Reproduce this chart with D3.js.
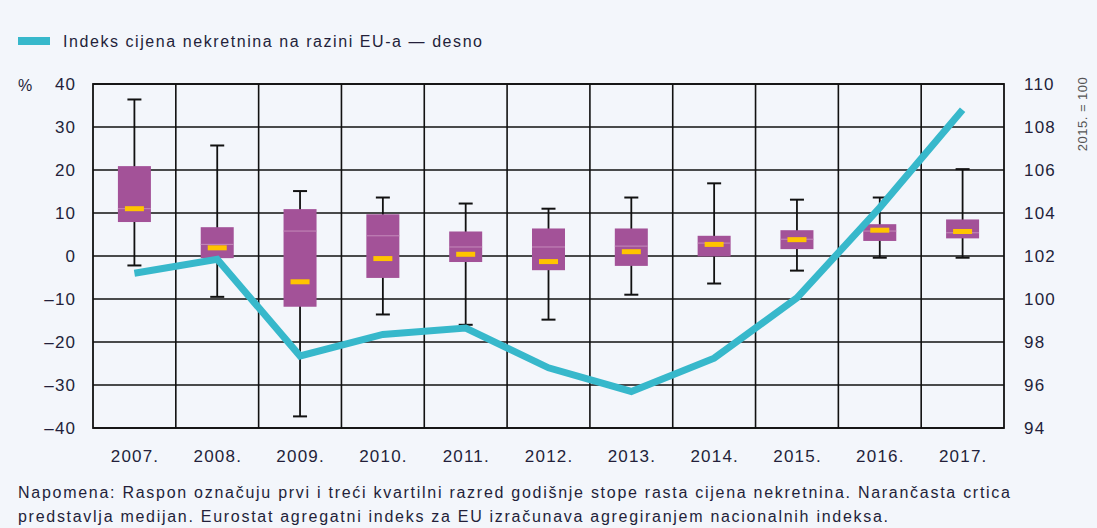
<!DOCTYPE html>
<html>
<head>
<meta charset="utf-8">
<script src="https://cdn.jsdelivr.net/npm/d3@7"></script>
<style>
    body { margin: 0; background: #f3f6fb; }
    svg text { font-family: "Liberation Sans", Arial, sans-serif; fill: #231f3a; }
</style>
</head>
<body>
<svg id="chart" width="1097" height="528"></svg>
<script>
let years = ['2007.', '2008.', '2009.', '2010.', '2011.', '2012.', '2013.', '2014.', '2015.', '2016.', '2017.']
let whiskerMax = [36.4, 25.7, 15.1, 13.6, 12.2, 11.0, 13.6, 16.9, 13.1, 13.6, 20.2]
let q3 = [20.9, 6.7, 10.9, 9.7, 5.7, 6.4, 6.4, 4.7, 6.0, 7.4, 8.5]
let medians = [11.0, 1.9, -6.0, -0.6, 0.4, -1.3, 1.0, 2.7, 3.8, 6.0, 5.7]
let means = [11.0, 2.7, 5.8, 4.7, 2.1, 2.1, 2.3, 3.0, 3.9, 5.8, 5.4]
let q1 = [7.9, -0.5, -11.8, -5.1, -1.4, -3.3, -2.3, -0.1, 1.6, 3.5, 4.1]
let whiskerMin = [-2.2, -9.5, -37.3, -13.6, -16.0, -14.8, -9.0, -6.4, -3.4, -0.4, -0.4]
let euIndex = [101.2, 101.85, 97.35, 98.35, 98.65, 96.8, 95.7, 97.25, 100.05, 104.25, 108.8]
let leftTicks = [-40, -30, -20, -10, 0, 10, 20, 30, 40]
let rightTicks = [94, 96, 98, 100, 102, 104, 106, 108, 110]
let legendLabel = 'Indeks cijena nekretnina na razini EU-a \u2014 desno'
let noteLines = [
    'Napomena: Raspon označuju prvi i treći kvartilni razred godišnje stope rasta cijena nekretnina. Narančasta crtica',
    'predstavlja medijan. Eurostat agregatni indeks za EU izračunava agregiranjem nacionalnih indeksa.'
]

let svg = d3.select('#chart')
let margin = {top: 84, left: 93, right: 93, bottom: 100}
let width = 1097 - margin.left - margin.right
let height = 528 - margin.top - margin.bottom

let x = d3.scaleBand().domain(years).range([margin.left, margin.left + width]).padding(0)
let y = d3.scaleLinear().domain([-40, 40]).range([margin.top + height, margin.top])
let yRight = d3.scaleLinear().domain([94, 110]).range([margin.top + height, margin.top])

// grid
let grid = svg.append('g')
grid.selectAll('line.h').data(leftTicks).enter().append('line')
    .attr('x1', margin.left).attr('x2', margin.left + width)
    .attr('y1', d => y(d)).attr('y2', d => y(d))
    .attr('stroke', '#111').attr('stroke-width', 1.6)
grid.selectAll('line.v').data(years.slice(1)).enter().append('line')
    .attr('x1', d => x(d)).attr('x2', d => x(d))
    .attr('y1', margin.top).attr('y2', margin.top + height)
    .attr('stroke', '#111').attr('stroke-width', 1.6)
grid.append('rect')
    .attr('x', margin.left).attr('y', margin.top)
    .attr('width', width).attr('height', height)
    .attr('fill', 'none').attr('stroke', '#111').attr('stroke-width', 1.8)

// axes
let leftAxis = svg.append('g')
    .attr('transform', 'translate(' + margin.left + ',0)')
    .call(d3.axisLeft(y).tickValues(leftTicks).tickSize(0).tickPadding(18)
        .tickFormat(d => d < 0 ? '\u2013' + Math.abs(d) : d))
let rightAxis = svg.append('g')
    .attr('transform', 'translate(' + (margin.left + width) + ',0)')
    .call(d3.axisRight(yRight).tickValues(rightTicks).tickSize(0).tickPadding(20))
let bottomAxis = svg.append('g')
    .attr('transform', 'translate(0,' + (margin.top + height) + ')')
    .call(d3.axisBottom(x).tickSize(0).tickPadding(22))
;[leftAxis, rightAxis, bottomAxis].forEach(a => {
    a.select('.domain').remove()
    a.selectAll('text').attr('font-size', 17).style('fill', '#231f3a').style('letter-spacing', '1.2px')
})
leftAxis.selectAll('text').attr('dx', 1.2)
bottomAxis.selectAll('text').attr('dx', 0.6)

svg.append('text').attr('x', 18).attr('y', y(40) + 7).attr('font-size', 16).text('%')
svg.append('text')
    .attr('transform', 'translate(1087,' + (margin.top + 30) + ') rotate(-90)')
    .attr('text-anchor', 'middle').attr('font-size', 13).style('fill', '#555')
    .style('letter-spacing', '0.5px')
    .text('2015. = 100')

// boxes
let boxW = 33, capW = 14, medW = 19
let boxes = svg.append('g').selectAll('g').data(years).enter().append('g')
    .attr('transform', d => 'translate(' + (x(d) + x.bandwidth() / 2) + ',0)')
boxes.append('line')
    .attr('y1', (d, i) => y(whiskerMax[i])).attr('y2', (d, i) => y(whiskerMin[i]))
    .attr('stroke', '#111').attr('stroke-width', 1.8)
boxes.append('line').attr('x1', -capW / 2).attr('x2', capW / 2)
    .attr('y1', (d, i) => y(whiskerMax[i])).attr('y2', (d, i) => y(whiskerMax[i]))
    .attr('stroke', '#111').attr('stroke-width', 2)
boxes.append('line').attr('x1', -capW / 2).attr('x2', capW / 2)
    .attr('y1', (d, i) => y(whiskerMin[i])).attr('y2', (d, i) => y(whiskerMin[i]))
    .attr('stroke', '#111').attr('stroke-width', 2)
boxes.append('rect')
    .attr('x', -boxW / 2).attr('width', boxW)
    .attr('y', (d, i) => y(q3[i])).attr('height', (d, i) => y(q1[i]) - y(q3[i]))
    .attr('fill', '#a35298')
boxes.append('line').attr('x1', -boxW / 2).attr('x2', boxW / 2)
    .attr('y1', (d, i) => y(means[i])).attr('y2', (d, i) => y(means[i]))
    .attr('stroke', '#c58bbb').attr('stroke-width', 1)
boxes.append('rect')
    .attr('x', -medW / 2).attr('width', medW)
    .attr('y', (d, i) => y(medians[i]) - 2.5).attr('height', 5)
    .attr('fill', '#ffc400')

// index line
let line = d3.line()
    .x((d, i) => x(years[i]) + x.bandwidth() / 2)
    .y(d => yRight(d))
svg.append('path').datum(euIndex)
    .attr('d', line).attr('fill', 'none')
    .attr('stroke', '#37b8cb').attr('stroke-width', 7)

// legend
svg.append('rect').attr('x', 18).attr('y', 37).attr('width', 32).attr('height', 8).attr('fill', '#37b8cb')
svg.append('text').attr('x', 63).attr('y', 47).attr('font-size', 16)
    .attr('textLength', 419).attr('lengthAdjust', 'spacing')
    .text(legendLabel)

// note
let noteWidths = [992, 870]
svg.selectAll('text.note').data(noteLines).enter().append('text')
    .attr('class', 'note')
    .attr('x', 18).attr('y', (d, i) => 498 + i * 24)
    .attr('font-size', 16)
    .attr('textLength', (d, i) => noteWidths[i]).attr('lengthAdjust', 'spacing')
    .text(d => d)
</script>
</body>
</html>
